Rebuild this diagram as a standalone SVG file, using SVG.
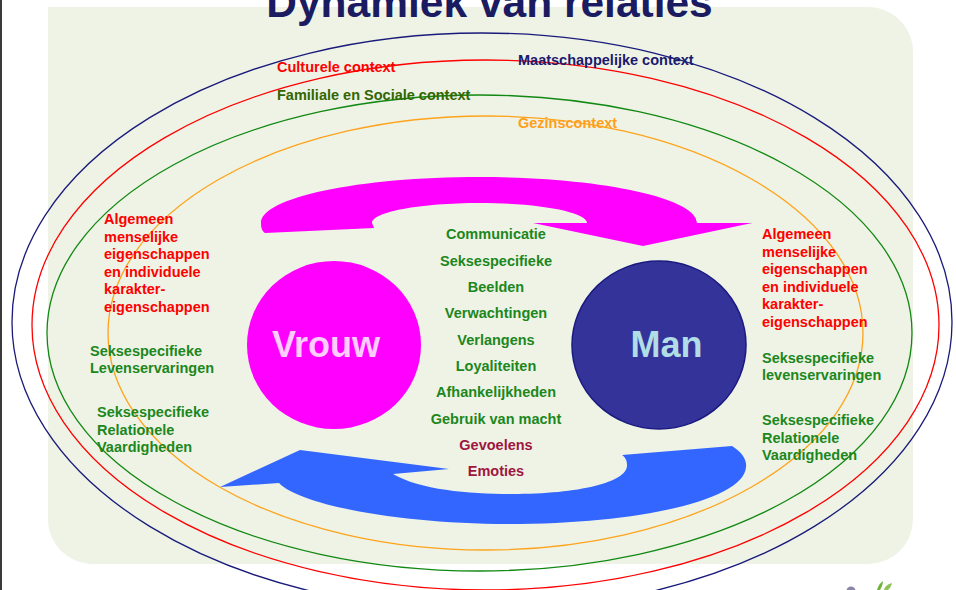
<svg xmlns="http://www.w3.org/2000/svg" width="956" height="590" viewBox="0 0 956 590">
<style>
  text { font-family: "Liberation Sans", Arial, sans-serif; font-weight: bold; }
  .lbl { font-size: 14.5px; }
  .red { fill: #ff0000; }
  .grn { fill: #1c871c; }
  .wine { fill: #9e1640; }
  .mid { text-anchor: middle; }
  .ring { fill: none; stroke-width: 1.3; }
</style>
<rect x="0" y="0" width="956" height="590" fill="#ffffff"/>
<rect x="0" y="0" width="2" height="590" fill="#3a3a3a"/>
<path d="M48,7 H868 A45,45 0 0 1 913,52 V519 A45,45 0 0 1 868,564 H93 A45,45 0 0 1 48,519 Z" fill="#eef3e6"/>
<text x="489.5" y="17" class="mid" font-size="42.5" fill="#1b1b62">Dynamiek van relaties</text>

<g id="contexts">
  <ellipse cx="482" cy="322" rx="470" ry="289" class="ring" stroke="#1a1a7a"/>
  <ellipse cx="485.5" cy="325" rx="453.5" ry="265" class="ring" stroke="#ff0000"/>
  <ellipse cx="479.5" cy="333" rx="432.5" ry="238" class="ring" stroke="#118811"/>
  <ellipse cx="485.5" cy="333" rx="377.5" ry="217" class="ring" stroke="#ffa31a"/>
  <text x="277" y="72" class="lbl red">Culturele context</text>
  <text x="518" y="65" class="lbl" fill="#1a1a6e">Maatschappelijke context</text>
  <text x="277" y="100" class="lbl" fill="#336600">Familiale en Sociale context</text>
  <text x="518" y="128" class="lbl" fill="#ff9f1a">Gezinscontext</text>
</g>

<g id="connectors">
  <path id="arrow-top" fill="#ff00ff" d="M265,233 L374,228 L372,223 C372,212 420.1,203 479.5,203 C538.9,203 587,212 587,223 L533,223 L643,246 L752,223 L697,223 C697,197.6 599.4,177 479,177 C358.6,177 261,197.6 261,223 C261,228 262,231 265,233 Z"/>
  <path id="arrow-bottom" fill="#3366ff" d="M220,487 L300,450 L449,469 L393,474 C420,490 470,494 512,494 C580,494 628,482 627,465 C627,460 625,457 622,455 L732,446 C742,452 747,460 746,467 C744,500 640,524 508,524 C400,524 300,505 279,483 Z"/>
</g>

<g id="vrouw">
  <ellipse cx="334" cy="345" rx="87" ry="84" fill="#ff00ff"/>
  <text x="326" y="357" class="mid" font-size="36" fill="#ffccff">Vrouw</text>
</g>

<g id="man">
  <ellipse cx="659" cy="345" rx="87" ry="84" fill="#333399" stroke="#1a1a80" stroke-width="1.5"/>
  <text x="666.5" y="357" class="mid" font-size="36" fill="#b0dde6">Man</text>
</g>

<g id="relatie-thema">
  <text x="496" y="239" class="lbl grn mid">Communicatie</text>
  <text x="496" y="265.5" class="lbl grn mid">Seksespecifieke</text>
  <text x="496" y="292" class="lbl grn mid">Beelden</text>
  <text x="496" y="318" class="lbl grn mid">Verwachtingen</text>
  <text x="496" y="344.5" class="lbl grn mid">Verlangens</text>
  <text x="496" y="371" class="lbl grn mid">Loyaliteiten</text>
  <text x="496" y="397" class="lbl grn mid">Afhankelijkheden</text>
  <text x="496" y="423.5" class="lbl grn mid">Gebruik van macht</text>
  <text x="496" y="450" class="lbl wine mid">Gevoelens</text>
  <text x="496" y="476" class="lbl wine mid">Emoties</text>
</g>

<g id="vrouw-kenmerken">
  <text x="104" y="224" class="lbl red">Algemeen</text>
  <text x="104" y="241.5" class="lbl red">menselijke</text>
  <text x="104" y="259" class="lbl red">eigenschappen</text>
  <text x="104" y="276.5" class="lbl red">en individuele</text>
  <text x="104" y="294" class="lbl red">karakter-</text>
  <text x="104" y="311.5" class="lbl red">eigenschappen</text>
  <text x="90" y="356" class="lbl grn">Seksespecifieke</text>
  <text x="90" y="373" class="lbl grn">Levenservaringen</text>
  <text x="97" y="417" class="lbl grn">Seksespecifieke</text>
  <text x="97" y="434.5" class="lbl grn">Relationele</text>
  <text x="97" y="452" class="lbl grn">Vaardigheden</text>
</g>

<g id="man-kenmerken">
  <text x="762" y="239" class="lbl red">Algemeen</text>
  <text x="762" y="256.5" class="lbl red">menselijke</text>
  <text x="762" y="274" class="lbl red">eigenschappen</text>
  <text x="762" y="291.5" class="lbl red">en individuele</text>
  <text x="762" y="309" class="lbl red">karakter-</text>
  <text x="762" y="326.5" class="lbl red">eigenschappen</text>
  <text x="762" y="363" class="lbl grn">Seksespecifieke</text>
  <text x="762" y="380" class="lbl grn">levenservaringen</text>
  <text x="762" y="425" class="lbl grn">Seksespecifieke</text>
  <text x="762" y="442.5" class="lbl grn">Relationele</text>
  <text x="762" y="460" class="lbl grn">Vaardigheden</text>
</g>

<g id="logo">
  <circle cx="851" cy="591" r="4.5" fill="#8a86a8"/>
  <path d="M877,590 C878,586 880,583 883,581 C883,585 881,588 880,590 Z" fill="#6fb43a"/>
  <path d="M884,590 C885,586 888,584 892,583 C891,587 889,589 888,590 Z" fill="#8cc456"/>
</g>
</svg>
